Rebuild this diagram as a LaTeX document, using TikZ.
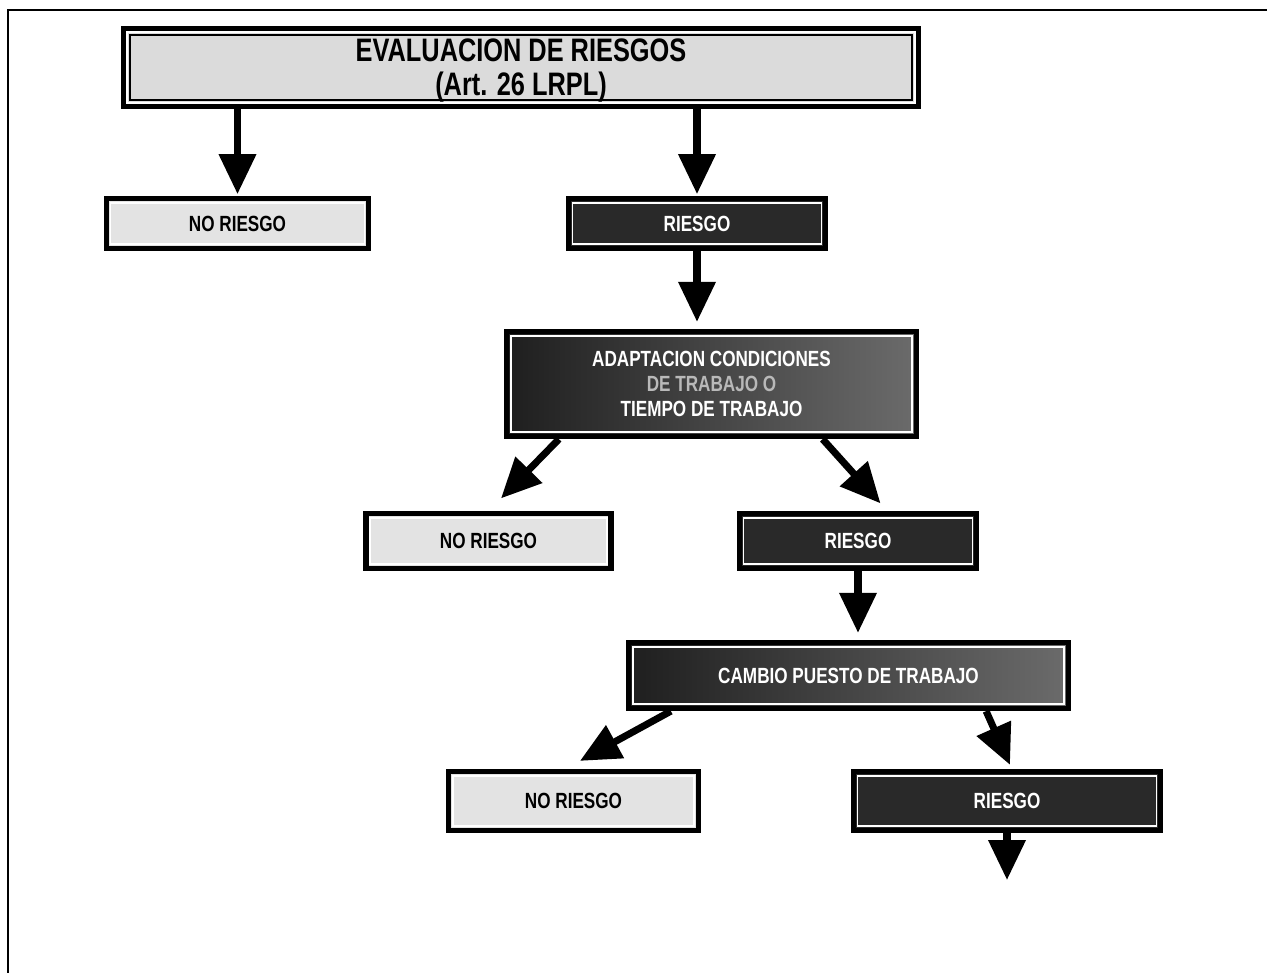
\documentclass[tikz,border=0pt]{standalone}
\usepackage{fontspec}
\newfontfamily\narrowfont[FakeStretch=0.78]{Liberation Sans}
\usetikzlibrary{arrows.meta}

\tikzset{
  chart/.style={rectangle, draw=black, line width=3pt, inner sep=2pt, align=center,
    font=\narrowfont\bfseries\fontsize{12.5}{14}\selectfont,
    path picture={\draw[white, line width=1pt]
      ([shift={(2.4pt,-2.4pt)}]path picture bounding box.north west) rectangle
      ([shift={(-2.4pt,2.4pt)}]path picture bounding box.south east);}},
  norisk/.style={chart, fill=gray!22, text=black},
  risk/.style={chart, fill=black!84, text=white},
  fade/.style={left color=black!88, right color=black!58},
  headbox/.style={chart, fill=gray!28, line width=2.5pt,
    font=\narrowfont\bfseries\fontsize{18.5}{18.5}\selectfont,
    path picture={\draw[white, line width=1.2pt]
      ([shift={(2.2pt,-2.2pt)}]path picture bounding box.north west) rectangle
      ([shift={(-2.2pt,2.2pt)}]path picture bounding box.south east);
      \draw[black, line width=0.8pt]
      ([shift={(3.6pt,-3.6pt)}]path picture bounding box.north west) rectangle
      ([shift={(-3.6pt,3.6pt)}]path picture bounding box.south east);}},
  flow/.style={-{Triangle[width=0.72cm,length=0.8cm]}, line width=4pt},
}

\begin{document}
\begin{tikzpicture}
  \useasboundingbox (0,0) rectangle (25.34,-19.46);
  % frame
  \draw[line width=1.7pt] (0.16,-19.46) -- (0.16,-0.2) -- (25.34,-0.2);

  % boxes
  \node[headbox, minimum width=15.9cm, minimum height=1.56cm] (eval) at (10.42,-1.35)
    {\raisebox{-2.5pt}[\height][\depth]{\begin{tabular}{@{}c@{}}EVALUACION DE RIESGOS\\(Art. 26 LRPL)\end{tabular}}};
  \node[norisk, minimum width=5.25cm, minimum height=1.0cm] (norisk1) at (4.75,-4.47) {NO RIESGO};
  \node[risk, minimum width=5.15cm, minimum height=1.0cm] (risk1) at (13.94,-4.47) {RIESGO};
  \node[risk, fade, minimum width=8.2cm, minimum height=2.1cm] (adapt) at (14.23,-7.68)
    {ADAPTACION CONDICIONES\\{\color{gray!55}DE TRABAJO O}\\TIEMPO DE TRABAJO};
  \node[norisk, minimum width=4.9cm, minimum height=1.1cm] (norisk2) at (9.77,-10.82) {NO RIESGO};
  \node[risk, minimum width=4.75cm, minimum height=1.1cm] (risk2) at (17.16,-10.82) {RIESGO};
  \node[risk, fade, minimum width=8.8cm, minimum height=1.32cm] (cambio) at (16.97,-13.51)
    {CAMBIO PUESTO DE TRABAJO};
  \node[norisk, minimum width=5.0cm, minimum height=1.18cm] (norisk3) at (11.47,-16.02) {NO RIESGO};
  \node[risk, minimum width=6.15cm, minimum height=1.18cm] (risk3) at (20.14,-16.02) {RIESGO};
  \coordinate (next) at (20.14,-17.6);

  % arrows
  \draw[flow, shorten >=1pt] (eval.south -| norisk1.north) -- (norisk1.north);
  \draw[flow, shorten >=1pt] (eval.south -| risk1.north) -- (risk1.north);
  \draw[flow, shorten >=4pt] (risk1.south) -- (risk1.south |- adapt.north);
  \draw[flow] ([xshift=1.1cm]adapt.south west) -- ([shift={(0.25,0.25)}]norisk2.north);
  \draw[flow] ([xshift=-1.93cm]adapt.south east) -- ([shift={(0.45,0.15)}]risk2.north);
  \draw[flow, shorten >=4pt] (risk2.south) -- (risk2.south |- cambio.north);
  \draw[flow] ([xshift=0.9cm]cambio.south west) -- ([shift={(0.13,0.16)}]norisk3.north);
  \draw[flow] ([xshift=-1.7cm]cambio.south east) -- ([shift={(0.06,0.08)}]risk3.north);
  \draw[flow] (risk3.south) -- (next);
\end{tikzpicture}
\end{document}
